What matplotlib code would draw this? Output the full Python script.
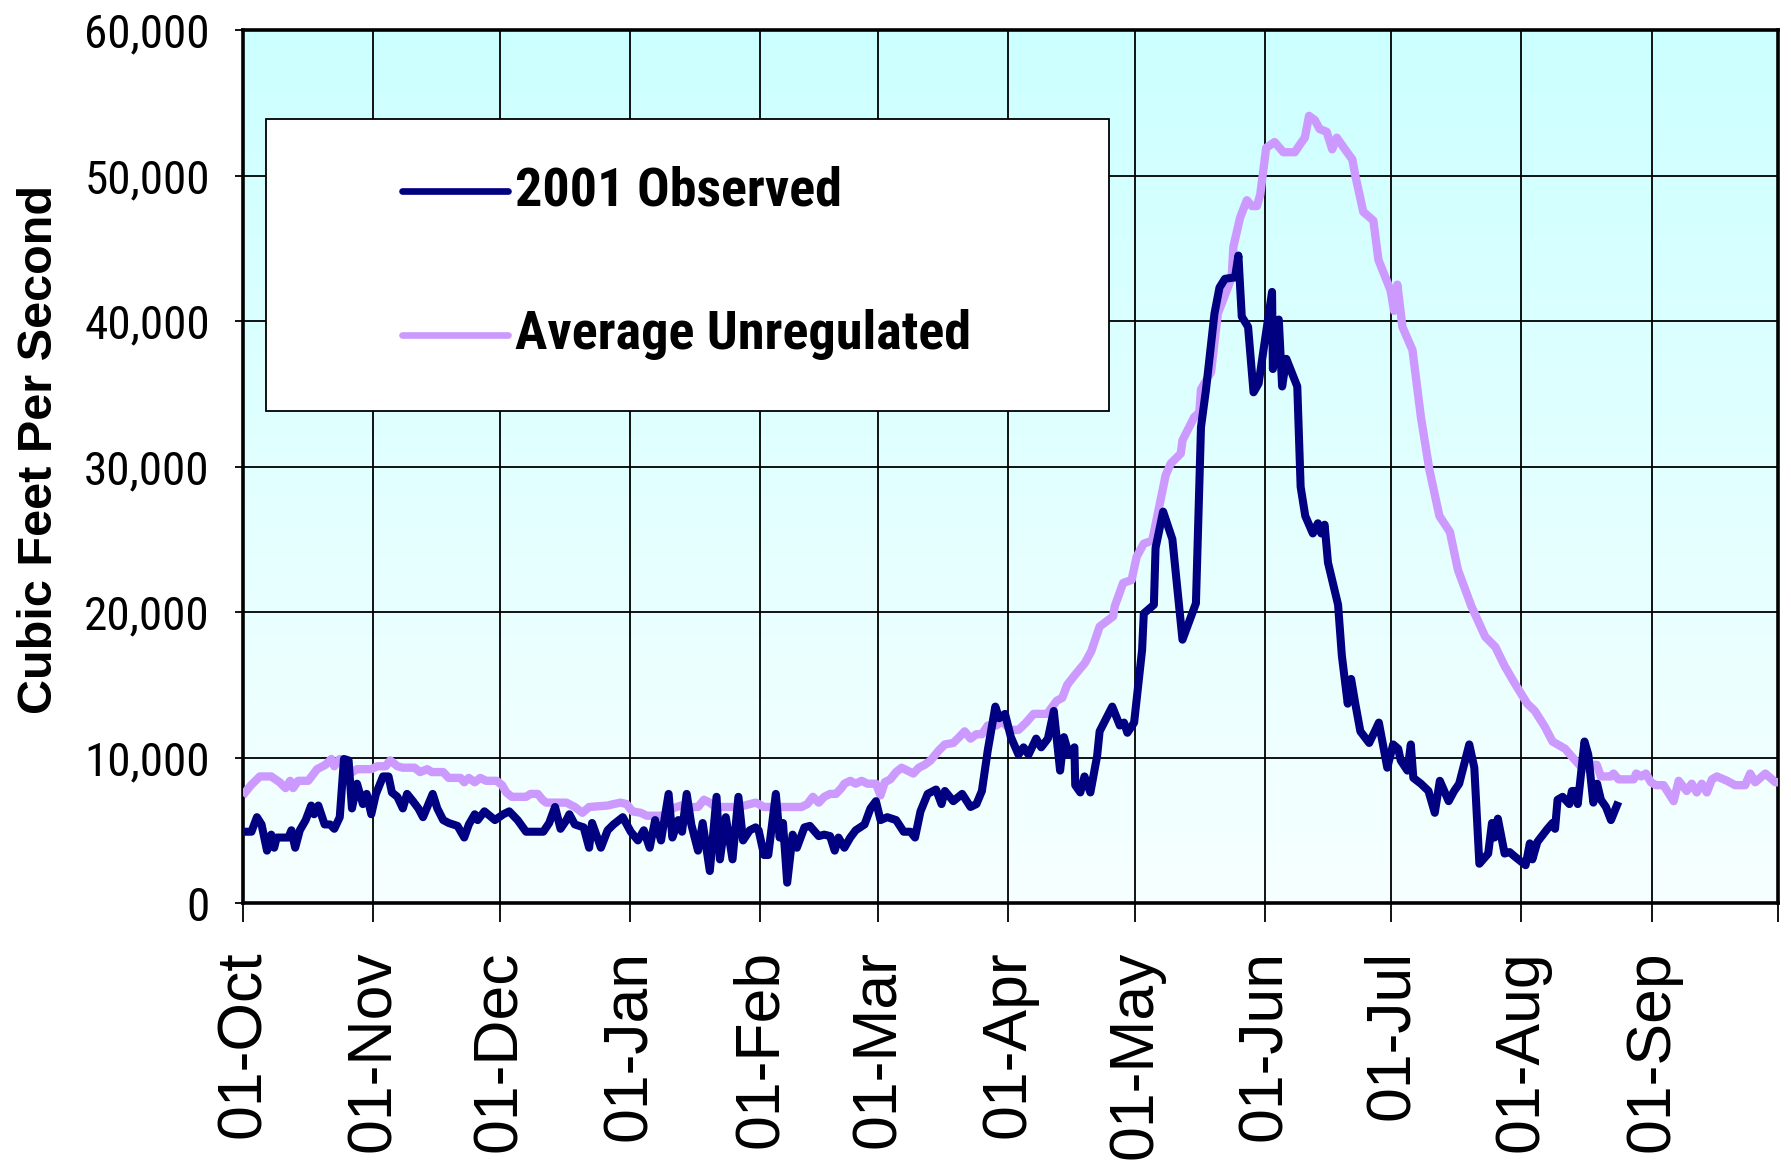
import numpy as np
import matplotlib
matplotlib.use("Agg")
import matplotlib.pyplot as plt
from matplotlib.colors import LinearSegmentedColormap
from matplotlib.patches import Rectangle
from matplotlib.ticker import FuncFormatter

# --- data (day offset from 01-Oct, flow in cfs) ---
series_names = ["2001 Observed", "Average Unregulated"]

obs_day = [0.5, 2, 3.3, 4.4, 5.7, 6.7, 7.4, 8.0, 10.8, 11.5, 12.4, 13.5, 14.9, 16.2, 16.9,
           17.9, 19.4, 20.7, 21.7, 23.0, 24.0, 25.1, 25.9, 27.1, 28.5, 29.4, 30.5, 31.6,
           33.3, 34.6, 35.4, 36.7, 38.0, 39.0, 40.4, 41.7, 42.8, 43.8, 45.1, 46.2, 47.6,
           48.9, 51.0, 52.6, 53.7, 55.1, 55.8, 57.4, 59.9, 61.9, 63.3, 65.3, 67.3, 71.4,
           72.8, 74.2, 75.5, 76.9, 77.6, 78.9, 81.0, 82.3, 83.0, 85.1, 86.7, 88.1, 90.3,
           92.2, 93.9, 95.3, 96.7, 98.0, 99.4, 101.2, 102.1, 103.5, 104.4, 105.5, 106.6,
           108.2, 109.3, 111.0, 112.6, 113.4, 114.8, 116.4, 117.8, 118.9, 120.5, 121.9,
           122.6, 123.9, 124.9, 126.7, 127.6, 128.4, 129.4, 130.7, 131.7, 133.5, 134.8,
           136.9, 138.2, 139.6, 140.7, 141.6, 143.0, 144.4, 145.7, 147.8, 149.2, 150.5,
           151.6, 153.2, 155.3, 157.1, 158.7, 159.8, 161.1, 162.8, 164.8, 166.1, 166.9,
           168.9, 171.0, 173.0, 174.4, 175.7, 177.1, 178.9, 179.8, 181.2, 182.6, 184.4,
           185.6, 186.8, 188.6, 189.8, 191.4, 192.8, 194.3, 195.2, 196.4, 197.7, 197.9,
           199.1, 200.1, 201.5, 203.1, 203.7, 206.7, 208.5, 209.5, 210.3, 211.9, 213.8,
           214.2, 216.6, 217.0, 218.8, 221.0, 223.4, 226.6, 227.8, 229.0, 231.0, 232.2,
           233.5, 235.9, 236.7, 237.5, 239.0, 240.3, 241.5, 244.7, 244.9, 246.3, 247.1,
           248.1, 250.7, 251.5, 252.6, 254.4, 255.6, 256.4, 257.2, 258.0, 260.4, 261.3,
           262.7, 263.5, 264.5, 265.7, 267.8, 269.3, 270.1, 272.1, 273.5, 274.7, 275.3,
           276.9, 277.7, 278.3, 280.1, 281.9, 283.4, 284.6, 286.7, 288.0, 289.2, 291.6,
           292.8, 294.0, 296.1, 297.0, 297.6, 298.4, 300.0, 301.2, 302.4, 305.0, 306.0,
           306.6, 307.8, 310.2, 311.4, 312.0, 312.6, 313.8, 315.4, 316.0, 317.0, 317.4,
           319.0, 319.9, 321.1, 322.0, 322.9, 324.1, 325.3, 326.7]
obs_cfs = [4900, 4900, 5900, 5400, 3600, 4700, 3800, 4500, 4500, 5000, 3800, 5000, 5700, 6700, 6100,
           6700, 5400, 5400, 5100, 5900, 9900, 9800, 6500, 8200, 6800, 7500, 6100, 7500,
           8700, 8700, 7600, 7300, 6500, 7500, 7000, 6500, 5900, 6600, 7500, 6500, 5700,
           5500, 5300, 4500, 5400, 6100, 5700, 6300, 5700, 6100, 6300, 5700, 4900, 4900,
           5500, 6600, 5100, 5700, 6100, 5400, 5200, 3800, 5500, 3800, 5000, 5400, 5900,
           4900, 4300, 5000, 3800, 5700, 4300, 7500, 4500, 5700, 4900, 7500, 5400,
           3600, 5500, 2200, 7300, 3000, 5900, 3000, 7300, 4300, 5000, 5200,
           5000, 3300, 3300, 7500, 4500, 5500, 1400, 4700, 3800, 5200, 5300,
           4600, 4700, 4600, 3600, 4500, 3800, 4500, 5000, 5400, 6500, 7000,
           5700, 5900, 5700, 4900, 4900, 4500, 6300, 7500, 7800, 6800, 7700,
           7000, 7500, 6600, 6800, 7700, 10500, 13500, 12700, 13000, 11400, 10200,
           10700, 10200, 11300, 10700, 11300, 13200, 9100, 11400, 10200, 10700, 8100,
           7600, 8700, 7600, 10100, 11800, 13500, 12200, 12400, 11700, 12400, 17400,
           19900, 20500, 24400, 26900, 25000, 18100, 20600, 32700, 35300, 40500, 42300,
           42900, 43000, 44500, 40300, 39600, 35100, 35700, 42000, 36700, 40100, 35500,
           37400, 35500, 28600, 26600, 25400, 26100, 25400, 26000, 23400, 20500, 17000,
           13700, 15400, 13700, 11800, 11000, 11900, 12400, 9300, 10900, 10600, 9800,
           9100, 10900, 8600, 8200, 7700, 6200, 8400, 7000, 7700, 8200, 10900,
           9300, 2700, 3400, 5500, 4500, 5800, 3400, 3500, 3200, 2600, 4100,
           3000, 4200, 5100, 5500, 5100, 7100, 7300, 6800, 7700, 7700, 6800,
           11100, 10200, 6900, 8200, 7100, 6600, 5700, 6700]

avg_day = [0.5, 1.9, 4.0, 6.7, 8.7, 10.1, 11.2, 11.9, 13.1, 15.5, 17.6, 19.6, 21.0, 21.7, 23.0,
           24.0, 25.4, 27.1, 30.5, 31.9, 33.9, 35.0, 36.7, 38.0, 40.8, 42.1, 43.8, 44.9,
           47.6, 48.9, 51.7, 52.6, 53.7, 55.1, 56.4, 57.8, 60.3, 61.6, 62.6, 63.9, 67.3,
           68.4, 70.1, 71.2, 72.1, 76.9, 78.9, 80.7, 82.3, 86.7, 88.1, 89.8, 91.2, 92.6,
           94.6, 96.0, 99.4, 100.7, 102.1, 104.2, 106.2, 108.2, 109.6, 111.0, 112.3, 117.8,
           120.5, 121.9, 122.6, 123.9, 132.8, 134.2, 135.5, 136.9, 138.2, 139.6, 141.0,
           142.3, 143.0, 144.4, 145.7, 147.1, 148.5, 150.5, 151.6, 152.6, 153.9, 155.3,
           156.6, 158.0, 159.4, 160.7, 162.1, 163.5, 165.5, 166.9, 168.9, 170.3, 171.6,
           173.0, 174.4, 175.7, 177.1, 179.1, 180.5, 182.5, 184.4, 186.2, 188.0, 191.2,
           193.5, 194.8, 196.0, 197.9, 200.2, 201.7, 203.7, 206.9, 207.3, 209.3, 211.3,
           212.5, 214.2, 216.2, 219.4, 220.6, 223.0, 223.4, 226.2, 227.4, 227.8, 230.2,
           231.8, 235.1, 235.5, 237.1, 238.7, 239.9, 241.1, 241.9, 243.3, 245.3, 247.4,
           250.1, 251.5, 252.5, 253.5, 254.9, 256.0, 257.7, 259.0, 260.1, 261.8, 263.8,
           264.5, 266.4, 268.8, 270.0, 272.9, 273.7, 274.5, 275.7, 278.1, 280.1, 282.1,
           284.5, 287.0, 288.9, 292.1, 295.4, 297.8, 300.0, 302.4, 305.4, 307.2, 309.6,
           311.4, 314.4, 316.2, 318.7, 320.5, 321.9, 322.9, 325.3, 325.9, 327.1, 330.7,
           331.3, 332.5, 333.6, 334.8, 336.0, 337.8, 340.2, 341.4, 343.3, 344.5, 345.7,
           346.9, 348.1, 349.3, 350.5, 352.9, 354.8, 357.2, 358.4, 359.6, 362.0, 364.4, 365.0]
avg_cfs = [7600, 8100, 8700, 8700, 8300, 7900, 8400, 7900, 8400, 8400, 9200, 9500, 9900, 9400, 9900,
           9800, 8900, 9200, 9200, 9400, 9400, 9800, 9400, 9300, 9300, 9000, 9200, 9000,
           9000, 8600, 8600, 8300, 8600, 8300, 8600, 8400, 8400, 8100, 7600, 7300, 7300,
           7500, 7500, 7100, 6900, 6900, 6600, 6200, 6600, 6700, 6800, 6900, 6800, 6300,
           6200, 6000, 6000, 6100, 6500, 6700, 6600, 6600, 7100, 6900, 6600, 6600,
           6800, 6900, 6800, 6600, 6600, 6800, 7300, 6900, 7300, 7500, 7500,
           7900, 8200, 8400, 8200, 8400, 8200, 8200, 7400, 8300, 8500, 9000,
           9300, 9100, 8900, 9300, 9500, 9800, 10500, 10900, 11000, 11400, 11800,
           11300, 11600, 11600, 12200, 12200, 12500, 11900, 11900, 12400, 13000, 13000,
           13900, 14100, 15000, 15700, 16500, 17300, 19000, 19700, 20400, 22000, 22200,
           23800, 24700, 24900, 29400, 30200, 30900, 31800, 33400, 33700, 35300, 36500,
           40500, 43000, 45100, 47100, 48300, 47900, 47900, 48700, 51900, 52300, 51600,
           51600, 52200, 52600, 54100, 53800, 53200, 53000, 51800, 52600, 51900, 51100,
           50000, 47500, 46900, 44200, 42100, 40700, 42500, 39600, 38000, 33400, 29800,
           26600, 25500, 22900, 20400, 18300, 17600, 16300, 15100, 13700, 13200, 12100,
           11100, 10600, 10000, 9200, 9500, 9500, 8700, 8700, 8900, 8500, 8500,
           8900, 8700, 8900, 8300, 8100, 8100, 7000, 8400, 7700, 8200, 7600,
           8200, 7600, 8500, 8700, 8400, 8100, 8100, 8900, 8300, 8900, 8300, 8300]

month_labels = ["01-Oct", "01-Nov", "01-Dec", "01-Jan", "01-Feb", "01-Mar",
                "01-Apr", "01-May", "01-Jun", "01-Jul", "01-Aug", "01-Sep"]

# --- fonts: Arial look-alikes, narrow where the original used Arial Narrow ---
regular = ["Liberation Sans", "DejaVu Sans"]
narrow = ["Liberation Sans Narrow", "Roboto Condensed", "Archivo Narrow", "Liberation Sans"]

# month starts as day offsets from 01-Oct-2000
month_starts = np.arange("2000-10", "2001-11", dtype="datetime64[M]").astype("datetime64[D]")
month_pos = (month_starts - np.datetime64("2000-10-01")).astype(int)

fig = plt.figure(figsize=(17.91, 11.72), dpi=100)
ax = fig.add_axes([0.1357, 0.2295, 0.857, 0.7449])

# gradient plot area: cyan at top fading to near white
grad_cmap = LinearSegmentedColormap.from_list("bg", ["#F7FFFF", "#CCFFFF"])
ax.imshow(np.linspace(0, 1, 256).reshape(-1, 1), cmap=grad_cmap, origin="lower",
          extent=[0, 1, 0, 1], transform=ax.transAxes, aspect="auto", zorder=0)

ax.plot(avg_day, avg_cfs, color="#CC99FF", lw=6.0, solid_joinstyle="round", zorder=3)
ax.plot(obs_day, obs_cfs, color="#000080", lw=5.8, solid_joinstyle="round", zorder=4)

ax.set_xlim(0, 365)
ax.set_ylim(0, 60000)
ax.set_xticks(month_pos)
ax.set_xticklabels(month_labels + [""], rotation=90, fontsize=45, family=regular)
ax.set_yticks(np.arange(0, 60001, 10000))
ax.yaxis.set_major_formatter(FuncFormatter(lambda v, p: f"{v:,.0f}"))
for lab in ax.get_yticklabels():
    lab.set_fontfamily(narrow)
    lab.set_fontsize(34)

ax.grid(True, color="black", lw=1.3)
ax.set_axisbelow(True)
ax.tick_params(axis="x", direction="out", length=14, width=1.3, pad=20)
ax.tick_params(axis="y", direction="out", length=6, width=1.3, pad=18)
for sp in ax.spines.values():
    sp.set_linewidth(2.6)

ax.set_ylabel("Cubic Feet Per Second", fontsize=35, fontweight="bold", family=regular)
ax.yaxis.set_label_coords(-0.118, 0.519)

# legend box
ax.add_patch(Rectangle((0.015, 0.5636), 0.549, 0.3344, transform=ax.transAxes,
                       facecolor="white", edgecolor="black", lw=1.3, zorder=6))
leg_y = [0.8156, 0.6507]
leg_colors = ["#000080", "#CC99FF"]
for name, yy, c in zip(series_names, leg_y, leg_colors):
    ax.plot([0.1036, 0.1726], [yy, yy], transform=ax.transAxes, color=c, lw=4.8,
            solid_capstyle="round", zorder=7)
    ax.text(0.1772, yy, name, transform=ax.transAxes, fontsize=39, fontweight="bold",
            family=narrow, va="center", ha="left", zorder=7)

fig.savefig("out.png", dpi=100)
